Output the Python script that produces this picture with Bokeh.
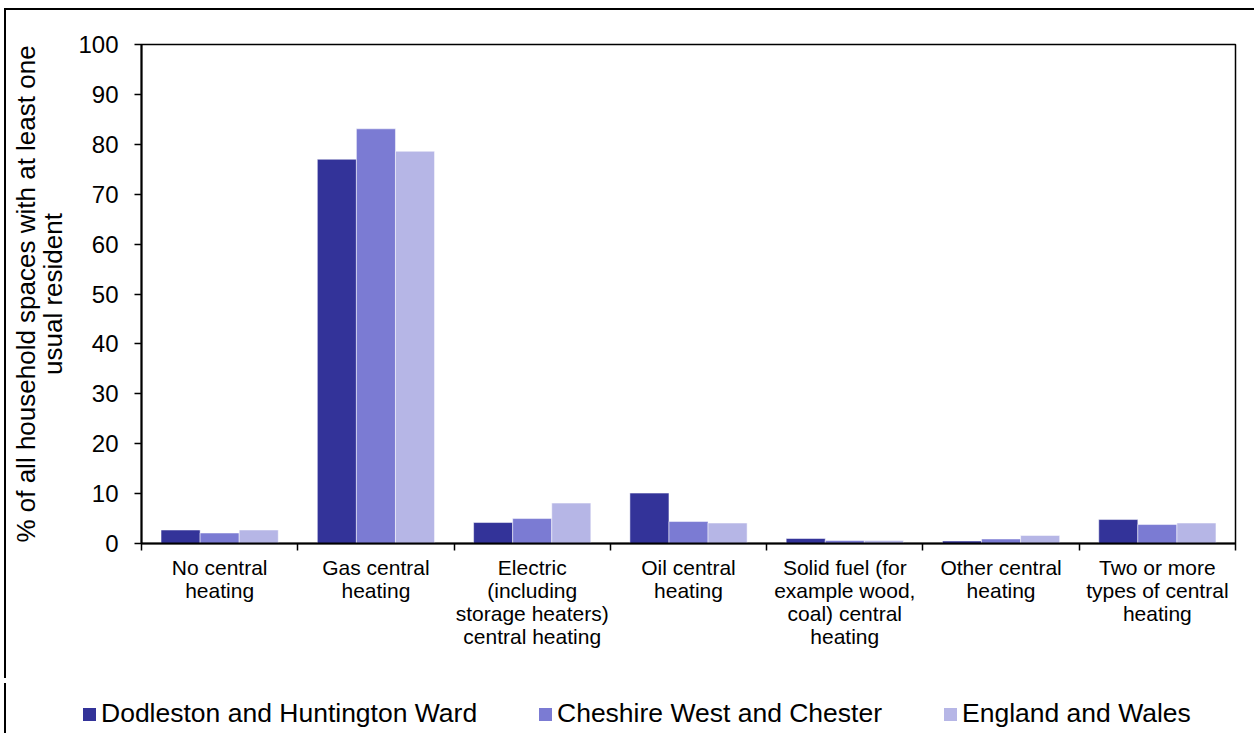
from bokeh.plotting import figure
from bokeh.layouts import column
from bokeh.models import FixedTicker, ColumnDataSource, Div
from bokeh.embed import file_html
from bokeh.resources import INLINE

categories = [
    "No central\nheating",
    "Gas central\nheating",
    "Electric\n(including\nstorage heaters)\ncentral heating",
    "Oil central\nheating",
    "Solid fuel (for\nexample wood,\ncoal) central\nheating",
    "Other central\nheating",
    "Two or more\ntypes of central\nheating",
]
series_names = ["Dodleston and Huntington Ward", "Cheshire West and Chester", "England and Wales"]
ward = [2.7, 77.0, 4.2, 10.1, 1.0, 0.5, 4.8]
cwac = [2.1, 83.1, 5.0, 4.4, 0.6, 0.9, 3.8]
ew = [2.7, 78.6, 8.1, 4.1, 0.6, 1.6, 4.1]
y_ticks = [0, 10, 20, 30, 40, 50, 60, 70, 80, 90, 100]

colors = ["#333399", "#7b7bd3", "#b6b6e6"]
FONT = "Liberation Sans"

p = figure(width=1250, height=670, output_backend="svg", toolbar_location=None,
           x_range=(-0.5, len(categories) - 0.5), y_range=(0, 100),
           min_border_left=135, min_border_right=21, min_border_top=34, min_border_bottom=137,
           styles={"border-left": "2px solid black", "border-top": "2px solid black",
                   "margin-left": "4px", "margin-top": "8px"})
p.xgrid.visible = False
p.ygrid.visible = False
p.outline_line_color = "black"
p.outline_line_width = 1.5
p.background_fill_color = "white"
p.border_fill_color = "white"

idx = list(range(len(categories)))
offsets = [-0.25, 0.0, 0.25]
for vals, off, col in zip([ward, cwac, ew], offsets, colors):
    src = ColumnDataSource(dict(x=[i + off for i in idx], top=vals))
    p.vbar(x="x", top="top", width=0.25, bottom=0, source=src,
           fill_color=col, line_color="white", line_width=0.5)

# x axis: labels at centers, boundary ticks as minor ticks
p.xaxis.ticker = FixedTicker(ticks=idx, minor_ticks=[i - 0.5 for i in range(len(categories) + 1)])
p.xaxis.major_label_overrides = {i: c for i, c in zip(idx, categories)}
p.xaxis.major_tick_out = 0
p.xaxis.major_tick_in = 0
p.xaxis.minor_tick_out = 7
p.xaxis.minor_tick_in = 0
p.xaxis.minor_tick_line_width = 1.5
p.xaxis.axis_line_width = 2
p.xaxis.major_label_text_font = FONT
p.xaxis.major_label_text_font_size = "21px"
p.xaxis.major_label_text_line_height = 1.0
p.xaxis.major_label_text_color = "black"
p.xaxis.major_label_standoff = 5
p.xaxis.major_label_text_align = "center"

p.yaxis.ticker = FixedTicker(ticks=y_ticks)
p.yaxis.minor_tick_line_color = None
p.yaxis.major_tick_out = 7
p.yaxis.major_tick_in = 0
p.yaxis.major_tick_line_width = 1.5
p.yaxis.axis_line_width = 2
p.yaxis.major_label_text_font = FONT
p.yaxis.major_label_text_font_size = "24px"
p.yaxis.major_label_text_color = "black"
p.yaxis.major_label_standoff = 16
p.yaxis.axis_label = "% of all household spaces with at least one\nusual resident"
p.yaxis.axis_label_text_font = FONT
p.yaxis.axis_label_text_font_size = "26px"
p.yaxis.axis_label_text_line_height = 0.92
p.yaxis.axis_label_text_font_style = "normal"
p.yaxis.axis_label_text_color = "black"
p.yaxis.axis_label_standoff = 7

# legend strip below the chart
item_left = [77, 533, 938]
items_html = "".join(
    f'<div style="position:absolute;left:{x}px;top:15px;height:30px;display:flex;align-items:center;'
    f'white-space:nowrap;">'
    f'<span style="display:inline-block;width:13px;height:13px;background:{c};margin-right:5px;margin-top:3px;"></span>'
    f'<span style="font-family:\'{FONT}\';font-size:26.5px;line-height:30px;color:black;">{n}</span></div>'
    for x, c, n in zip(item_left, colors, series_names)
)
legend_div = Div(text=f'<div style="position:relative;width:1250px;height:53px;">{items_html}</div>',
                 width=1250, height=53,
                 styles={"border-left": "2px solid black", "margin-left": "4px", "background": "white"})

layout = column(p, legend_div, spacing=0)
open("out.html", "w").write(file_html(layout, INLINE))
